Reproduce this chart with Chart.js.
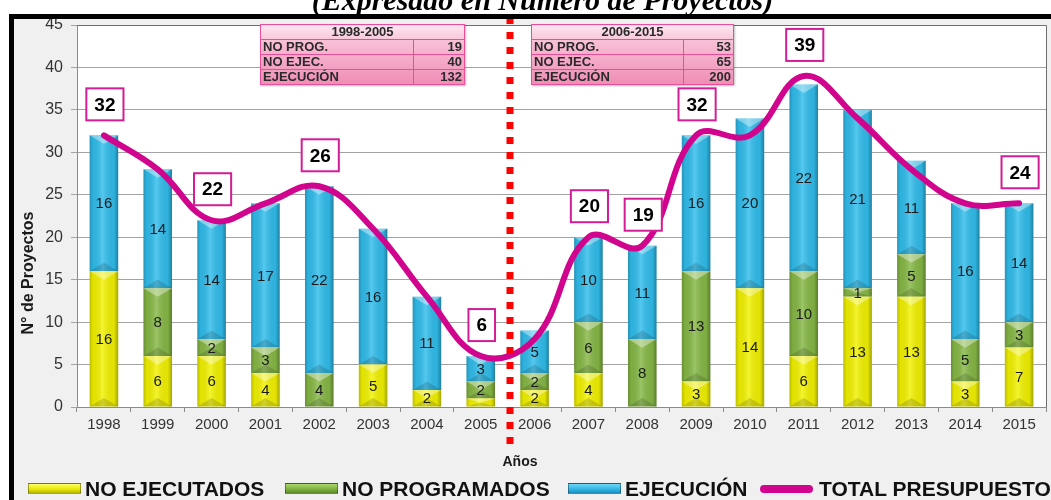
<!DOCTYPE html>
<html>
<head>
<meta charset="utf-8">
<script src="https://cdn.jsdelivr.net/npm/chart.js"></script>
<style>
  html, body { margin: 0; padding: 0; background: #fff; width: 1051px; height: 500px; overflow: hidden; }
  #wrap { position: relative; width: 1051px; height: 500px; overflow: hidden; }
  #chart { position: absolute; left: 0; top: 0; }
  #title { position: absolute; left: 0; top: -17px; width: 1085px; text-align: center; line-height: 30px;
           font: italic bold 30px 'Liberation Serif', 'Times New Roman', serif; color: #000; white-space: nowrap; z-index: 2; }
  .tbl { position: absolute; top: 24px; border-collapse: collapse; z-index: 2;
         font: bold 13px 'Liberation Sans', Arial, sans-serif; color: #2a2a2a;
         background: linear-gradient(#fbd3e2, #ef8db5); box-shadow: 1px 1px 2px rgba(0,0,0,0.25); }
  .tbl td { border: 1px solid #e94f98; padding: 0 2px; height: 14px; line-height: 14px; }
  .tbl tr.hd td { text-align: center; background: linear-gradient(#fde6ef, #f9c6da); height: 13px; }
  .tbl td.v { text-align: right; }
  #legend { position: absolute; left: 0; top: 477px; width: 1200px; height: 24px; z-index: 2;
            font: bold 21px 'Liberation Sans', Arial, sans-serif; color: #111; }
  .item { position: absolute; top: 0; white-space: nowrap; line-height: 24px; }
  .sw { display: inline-block; width: 53px; height: 11px; vertical-align: middle; margin-right: 4px; margin-top: -3px;
        border: 1px solid rgba(0,0,0,0.35); box-sizing: border-box; }
  .sw.ln { height: 8px; border: none; border-radius: 4px; margin-right: 6px; }
</style>
</head>
<body>
<div id="wrap">
  <div id="title">(Expresado en Número de Proyectos)</div>
  <canvas id="chart" width="1051" height="500"></canvas>
  <table class="tbl" id="tblA" style="left:260px;width:205px"></table>
  <table class="tbl" id="tblB" style="left:531px;width:203px"></table>
  <div id="legend"></div>
</div>
<script>
const years = ['1998', '1999', '2000', '2001', '2002', '2003', '2004', '2005', '2006',
               '2007', '2008', '2009', '2010', '2011', '2012', '2013', '2014', '2015'];
const noEjecutados  = [16, 6, 6, 4, 0, 5, 2, 1, 2, 4, 0, 3, 14, 6, 13, 13, 3, 7];
const noProgramados = [0, 8, 2, 3, 4, 0, 0, 2, 2, 6, 8, 13, 0, 10, 1, 5, 5, 3];
const ejecucion     = [16, 14, 14, 17, 22, 16, 11, 3, 5, 10, 11, 16, 20, 22, 21, 11, 16, 14];
const totalPresupuesto = [32, 28, 22, 24, 26, 21, 13, 6, 8, 20, 19, 32, 32, 39, 34, 28, 24, 24];
const totalLabels = [32, null, 22, null, 26, null, null, 6, null, 20, 19, 32, null, 39, null, null, null, 24];

const yTicks = [0, 5, 10, 15, 20, 25, 30, 35, 40, 45];

const tableRows = ['NO PROG.', 'NO EJEC.', 'EJECUCIÓN'];
const periodA = '1998-2005';
const periodAValues = [19, 40, 132];
const periodB = '2006-2015';
const periodBValues = [53, 65, 200];

function fillTable(id, period, values) {
  let html = '<tr class="hd"><td colspan="2">' + period + '</td></tr>';
  tableRows.forEach((r, i) => {
    html += '<tr><td>' + r + '</td><td class="v">' + values[i] + '</td></tr>';
  });
  document.getElementById(id).innerHTML = html;
}
fillTable('tblA', periodA, periodAValues);
fillTable('tblB', periodB, periodBValues);

const SANS = "'Liberation Sans', Arial, sans-serif";

// background, grey frame area and white plot area
const framePlugin = {
  id: 'frame',
  beforeDraw(chart) {
    const { ctx, chartArea: a } = chart;
    ctx.save();
    ctx.fillStyle = '#fff';
    ctx.fillRect(0, 0, chart.width, chart.height);
    ctx.fillStyle = '#f0f0f0';
    ctx.fillRect(9, 14, chart.width - 9, chart.height - 14);
    ctx.fillStyle = '#fff';
    ctx.fillRect(a.left, a.top, a.right - a.left, a.bottom - a.top);
    ctx.restore();
  },
  afterDraw(chart) {
    const { ctx, chartArea: a, scales } = chart;
    ctx.save();
    // plot border
    ctx.strokeStyle = '#6e6e6e';
    ctx.lineWidth = 1;
    ctx.beginPath();
    ctx.moveTo(a.left, a.top + 0.5);
    ctx.lineTo(a.right + 0.5, a.top + 0.5);
    ctx.lineTo(a.right + 0.5, a.bottom);
    ctx.stroke();

    // red dotted divider between 2005 and 2006
    const xs = scales.x;
    const dx = Math.round((xs.getPixelForValue(7) + xs.getPixelForValue(8)) / 2) + 2;
    ctx.strokeStyle = '#ff0000';
    ctx.lineWidth = 7;
    ctx.setLineDash([7, 8]);
    ctx.beginPath();
    ctx.moveTo(dx, 17);
    ctx.lineTo(dx, 444);
    ctx.stroke();
    ctx.setLineDash([]);

    // axis titles
    ctx.fillStyle = '#1a1a1a';
    ctx.font = 'bold 16px ' + SANS;
    ctx.textAlign = 'center';
    ctx.textBaseline = 'middle';
    ctx.save();
    ctx.translate(29, 273);
    ctx.rotate(-Math.PI / 2);
    ctx.fillText('N° de Proyectos', 0, 0);
    ctx.restore();
    ctx.font = 'bold 14px ' + SANS;
    ctx.fillText('Años', 520, 462);

    // black frame
    ctx.fillStyle = '#000';
    ctx.fillRect(9, 14, chart.width - 9, 5);
    ctx.fillRect(9, 14, 5, chart.height - 14);
    ctx.restore();
  }
};

// 3D-looking shading over each bar segment
const bevelPlugin = {
  id: 'bevel',
  afterDatasetDraw(chart, args) {
    const meta = args.meta;
    if (meta.type !== 'bar') return;
    const ctx = chart.ctx;
    ctx.save();
    meta.data.forEach(bar => {
      const h = bar.base - bar.y;
      if (h <= 0.5) return;
      const w = bar.width;
      const l = bar.x - w / 2;
      const g = ctx.createLinearGradient(l, 0, l + w, 0);
      g.addColorStop(0, 'rgba(0,0,0,0.22)');
      g.addColorStop(0.12, 'rgba(0,0,0,0.06)');
      g.addColorStop(0.45, 'rgba(255,255,255,0.18)');
      g.addColorStop(0.85, 'rgba(0,0,0,0.06)');
      g.addColorStop(1, 'rgba(0,0,0,0.32)');
      ctx.fillStyle = g;
      ctx.fillRect(l, bar.y, w, h);
      const t = Math.min(w * 0.3, h / 2);
      ctx.fillStyle = 'rgba(255,255,255,0.38)';
      ctx.beginPath();
      ctx.moveTo(l, bar.y);
      ctx.lineTo(l + w, bar.y);
      ctx.lineTo(bar.x, bar.y + t);
      ctx.closePath();
      ctx.fill();
      ctx.fillStyle = 'rgba(0,0,0,0.14)';
      ctx.beginPath();
      ctx.moveTo(l, bar.base);
      ctx.lineTo(l + w, bar.base);
      ctx.lineTo(bar.x, bar.base - t);
      ctx.closePath();
      ctx.fill();
    });
    ctx.restore();
  }
};

// segment values and boxed totals
const labelPlugin = {
  id: 'valueLabels',
  afterDatasetsDraw(chart) {
    const ctx = chart.ctx;
    ctx.save();
    ctx.textAlign = 'center';
    ctx.textBaseline = 'middle';
    chart.data.datasets.forEach((ds, di) => {
      const meta = chart.getDatasetMeta(di);
      if (meta.type !== 'bar') return;
      ctx.font = '15px ' + SANS;
      ctx.fillStyle = '#1a1a1a';
      meta.data.forEach((bar, i) => {
        const v = ds.data[i];
        if (!v) return;
        // the thin bottom sliver of 2005 carries no label on the original
        if (bar.base - bar.y < 9 && bar.base >= chart.chartArea.bottom - 1) return;
        ctx.fillText(String(v), bar.x, (bar.y + bar.base) / 2 + 1);
      });
    });
    const lineIdx = chart.data.datasets.findIndex(d => d.type === 'line');
    const lm = chart.getDatasetMeta(lineIdx);
    ctx.font = 'bold 19px ' + SANS;
    lm.data.forEach((pt, i) => {
      const v = totalLabels[i];
      if (v === null) return;
      const txt = String(v);
      const tw = ctx.measureText(txt).width;
      const bw = tw + 16, bh = 32;
      const cx = pt.x + 1, cy = pt.y - 31;
      ctx.fillStyle = '#fff';
      ctx.fillRect(cx - bw / 2, cy - bh / 2, bw, bh);
      ctx.strokeStyle = '#d21e96';
      ctx.lineWidth = 2;
      ctx.strokeRect(cx - bw / 2, cy - bh / 2, bw, bh);
      ctx.fillStyle = '#000';
      ctx.fillText(txt, cx, cy + 1);
    });
    ctx.restore();
  }
};

const chart = new Chart(document.getElementById('chart').getContext('2d'), {
  type: 'bar',
  data: {
    labels: years,
    datasets: [
      {
        type: 'line',
        label: 'TOTAL PRESUPUESTO',
        data: totalPresupuesto,
        stack: 'total',
        borderColor: '#d1058d',
        backgroundColor: '#d1058d',
        borderWidth: 6,
        borderCapStyle: 'round',
        tension: 0.4,
        pointRadius: 0,
        fill: false,
        order: 0
      },
      {
        label: 'NO EJECUTADOS',
        data: noEjecutados,
        backgroundColor: '#f2f200',
        order: 1
      },
      {
        label: 'NO PROGRAMADOS',
        data: noProgramados,
        backgroundColor: '#86b845',
        order: 1
      },
      {
        label: 'EJECUCIÓN',
        data: ejecucion,
        backgroundColor: '#30bdec',
        order: 1
      }
    ]
  },
  options: {
    responsive: false,
    animation: false,
    devicePixelRatio: 1,
    layout: { padding: { left: 0, top: 25, right: 5, bottom: 0 } },
    datasets: { bar: { barPercentage: 0.53, categoryPercentage: 1 } },
    plugins: {
      legend: { display: false },
      tooltip: { enabled: false }
    },
    scales: {
      x: {
        stacked: true,
        grid: { offset: true, drawOnChartArea: false, drawTicks: true, tickLength: 5, color: '#8a8a8a' },
        border: { color: '#8a8a8a' },
        ticks: { color: '#333', font: { family: SANS, size: 15 }, padding: 4, maxRotation: 0, autoSkip: false },
        afterFit(s) { s.height = 93; }
      },
      y: {
        stacked: true,
        min: 0,
        max: 45,
        afterBuildTicks(s) { s.ticks = yTicks.map(v => ({ value: v })); },
        grid: { color: '#a3a3a3', tickLength: 6, drawTicks: true },
        border: { color: '#8a8a8a' },
        ticks: { color: '#333', font: { family: SANS, size: 16 }, padding: 8 },
        afterFit(s) { s.width = 77; }
      }
    }
  },
  plugins: [framePlugin, bevelPlugin, labelPlugin]
});

// legend in the order shown on the original
const legendOrder = [1, 2, 3, 0];
const legendLeft = [28, 285, 568, 760];
const legendSwatch = [
  'linear-gradient(#ffff66, #e6e600 60%, #b5b500)',
  'linear-gradient(#a8d86a, #7fae3f 60%, #5d8a2b)',
  'linear-gradient(#6fd8f8, #2fb4e4 60%, #1d8fbf)',
  '#d1058d'
];
const legend = document.getElementById('legend');
legendOrder.forEach((di, k) => {
  const ds = chart.data.datasets[di];
  const item = document.createElement('div');
  item.className = 'item';
  item.style.left = legendLeft[k] + 'px';
  const sw = document.createElement('span');
  sw.className = 'sw' + (ds.type === 'line' ? ' ln' : '');
  sw.style.background = legendSwatch[k];
  item.appendChild(sw);
  item.appendChild(document.createTextNode(ds.label));
  legend.appendChild(item);
});
</script>
</body>
</html>
